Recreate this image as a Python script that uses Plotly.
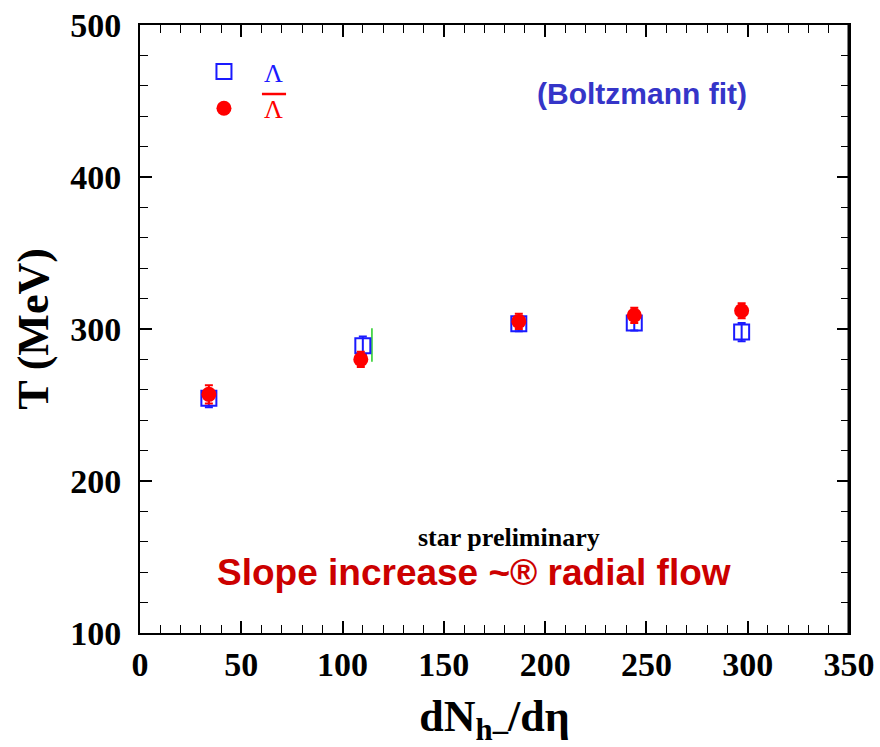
import plotly.graph_objects as go

# Data
lam_x = [34, 110, 187, 244, 297]
lam_T = [254.5, 289, 303.5, 304, 298]
lam_err = [6, 6, 5, 5, 6]

alam_x = [34, 109, 187, 244, 297]
alam_T = [257, 280, 305, 309, 312]
alam_err = [6, 5, 5, 5, 5]

green_x = [114.5, 114.5]
green_T = [278.5, 300.5]

x_ticks = [0, 50, 100, 150, 200, 250, 300, 350]
y_ticks = [100, 200, 300, 400, 500]

BLUE = "#1a1aff"
RED = "#ff0000"

fig = go.Figure()
fig.add_trace(go.Scatter(
    x=green_x, y=green_T, mode="lines",
    line=dict(color="#22cc22", width=1.5), showlegend=False, hoverinfo="skip"))
fig.add_trace(go.Scatter(
    x=lam_x, y=lam_T, mode="markers", name="<span style='color:#1a1aff'>Λ</span>",
    marker=dict(symbol="square-open", size=15, color=BLUE, line=dict(width=2, color=BLUE)),
    error_y=dict(type="data", array=lam_err, color=BLUE, thickness=2, width=4)))
fig.add_trace(go.Scatter(
    x=alam_x, y=alam_T, mode="markers", name="<span style='color:#ff0000'>Λ</span>",
    marker=dict(symbol="circle", size=15, color=RED),
    error_y=dict(type="data", array=alam_err, color=RED, thickness=2, width=4)))

axis_font = dict(family="Liberation Serif", size=34, color="black")

fig.update_layout(
    width=880, height=747,
    margin=dict(l=140, r=31, t=25, b=114, autoexpand=False),
    paper_bgcolor="white", plot_bgcolor="white",
    showlegend=True,
    legend=dict(x=0.062, y=0.962, xanchor="left", yanchor="top",
                bgcolor="rgba(0,0,0,0)", font=dict(family="Liberation Serif", size=26),
                itemwidth=70, tracegroupgap=0),
    xaxis=dict(range=[0, 350], tickvals=x_ticks, ticktext=[f"<b>{v}</b>" for v in x_ticks],
               ticks="inside", ticklen=12, tickwidth=1.5, tickcolor="black",
               minor=dict(dtick=10, ticks="inside", ticklen=8, tickwidth=1.2, tickcolor="black"),
               showline=True, linecolor="black", linewidth=2, mirror="allticks",
               showgrid=False, zeroline=False, tickfont=axis_font, automargin=False,
               title=dict(text="<b>dN<sub>h–</sub>/dη</b>", font=dict(family="Liberation Serif", size=44, color="black"),
                          standoff=18)),
    yaxis=dict(range=[100, 500], tickvals=y_ticks, ticktext=[f"<b>{v}</b>" for v in y_ticks],
               ticks="inside", ticklen=12, tickwidth=1.5, tickcolor="black",
               minor=dict(dtick=20, ticks="inside", ticklen=8, tickwidth=1.2, tickcolor="black"),
               showline=True, linecolor="black", linewidth=2, mirror="allticks",
               showgrid=False, zeroline=False, tickfont=axis_font, ticklabelstandoff=10,
               automargin=False,
               title=dict(text="<b>T (MeV)</b>", font=dict(family="Liberation Serif", size=44, color="black"),
                          standoff=8)),
)

# thicker right frame edge, as in the reference
fig.add_shape(type="line", xref="paper", yref="paper", x0=1, x1=1, y0=0, y1=1,
              line=dict(color="black", width=3))
# overbar of the anti-Lambda legend label
fig.add_shape(type="line", xref="paper", yref="paper", x0=0.172, x1=0.206, y0=0.8865, y1=0.8865,
              line=dict(color=RED, width=2.5))

fig.add_annotation(x=248, y=455, text="<b>(Boltzmann fit)</b>",
                   showarrow=False, font=dict(family="Liberation Sans", size=30, color="#3535c8"))
fig.add_annotation(x=182, y=163, text="<b>star preliminary</b>",
                   showarrow=False, font=dict(family="Liberation Serif", size=26, color="black"))
fig.add_annotation(x=165, y=140, text="<b>Slope increase ~® radial flow</b>",
                   showarrow=False, font=dict(family="Liberation Sans", size=37, color="#cc0000"))

fig.write_html("out.html")
